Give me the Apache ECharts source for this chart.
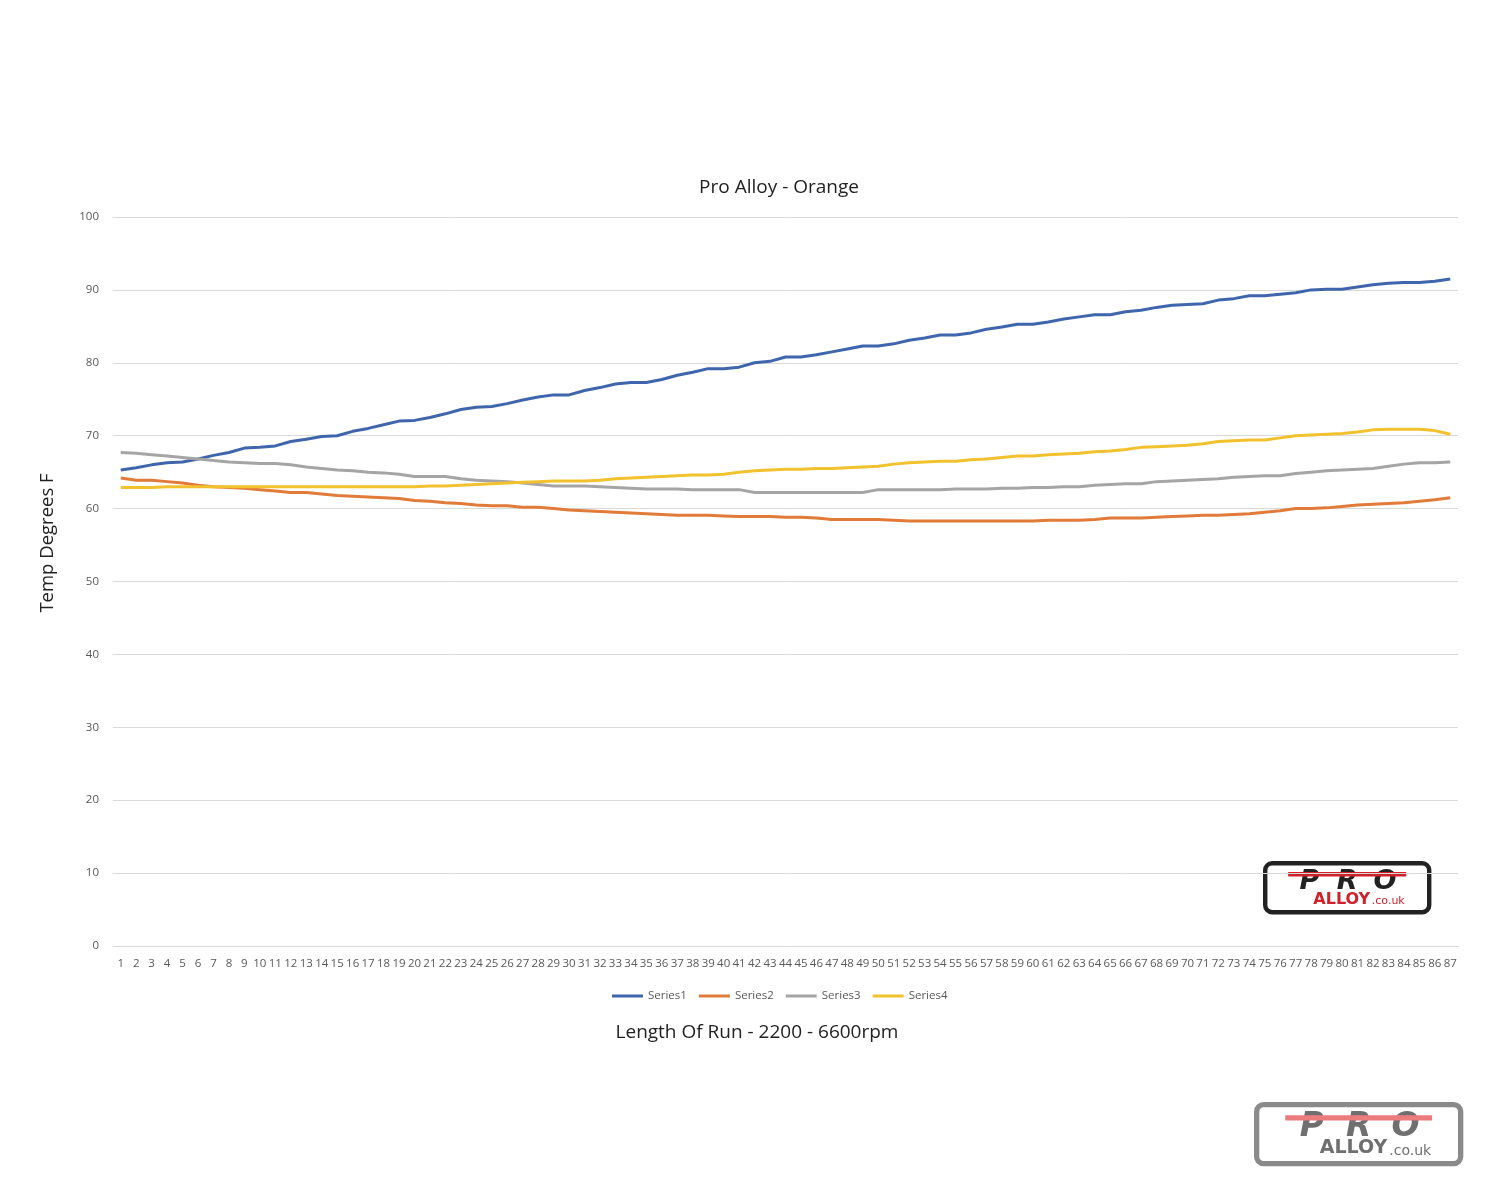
<!DOCTYPE html>
<html><head><meta charset="utf-8">
<script src="https://cdn.jsdelivr.net/npm/echarts@6/dist/echarts.min.js"></script>
<style>html,body{margin:0;padding:0;background:#fff}#c{width:1500px;height:1200px}</style>
</head><body><div id="c"></div>
<script>
const categories = Array.from({length: 87}, (_, i) => String(i + 1));
const series1 = [65.3,65.6,66.0,66.3,66.4,66.8,67.3,67.7,68.3,68.4,68.6,69.2,69.5,69.9,70.0,70.6,71.0,71.5,72.0,72.1,72.5,73.0,73.6,73.9,74.0,74.4,74.9,75.3,75.6,75.6,76.2,76.6,77.1,77.3,77.3,77.7,78.3,78.7,79.2,79.2,79.4,80.0,80.2,80.8,80.8,81.1,81.5,81.9,82.3,82.3,82.6,83.1,83.4,83.8,83.8,84.1,84.6,84.9,85.3,85.3,85.6,86.0,86.3,86.6,86.6,87.0,87.2,87.6,87.9,88.0,88.1,88.6,88.8,89.2,89.2,89.4,89.6,90.0,90.1,90.1,90.4,90.7,90.9,91.0,91.0,91.2,91.5];
const series2 = [64.2,63.9,63.9,63.7,63.5,63.2,63.0,62.9,62.8,62.6,62.4,62.2,62.2,62.0,61.8,61.7,61.6,61.5,61.4,61.1,61.0,60.8,60.7,60.5,60.4,60.4,60.2,60.2,60.0,59.8,59.7,59.6,59.5,59.4,59.3,59.2,59.1,59.1,59.1,59.0,58.9,58.9,58.9,58.8,58.8,58.7,58.5,58.5,58.5,58.5,58.4,58.3,58.3,58.3,58.3,58.3,58.3,58.3,58.3,58.3,58.4,58.4,58.4,58.5,58.7,58.7,58.7,58.8,58.9,59.0,59.1,59.1,59.2,59.3,59.5,59.7,60.0,60.0,60.1,60.3,60.5,60.6,60.7,60.8,61.0,61.2,61.5];
const series3 = [67.7,67.6,67.4,67.2,67.0,66.8,66.6,66.4,66.3,66.2,66.2,66.0,65.7,65.5,65.3,65.2,65.0,64.9,64.7,64.4,64.4,64.4,64.1,63.9,63.8,63.7,63.5,63.3,63.1,63.1,63.1,63.0,62.9,62.8,62.7,62.7,62.7,62.6,62.6,62.6,62.6,62.2,62.2,62.2,62.2,62.2,62.2,62.2,62.2,62.6,62.6,62.6,62.6,62.6,62.7,62.7,62.7,62.8,62.8,62.9,62.9,63.0,63.0,63.2,63.3,63.4,63.4,63.7,63.8,63.9,64.0,64.1,64.3,64.4,64.5,64.5,64.8,65.0,65.2,65.3,65.4,65.5,65.8,66.1,66.3,66.3,66.4];
const series4 = [62.9,62.9,62.9,63.0,63.0,63.0,63.0,63.0,63.0,63.0,63.0,63.0,63.0,63.0,63.0,63.0,63.0,63.0,63.0,63.0,63.1,63.1,63.2,63.3,63.4,63.5,63.6,63.7,63.8,63.8,63.8,63.9,64.1,64.2,64.3,64.4,64.5,64.6,64.6,64.7,65.0,65.2,65.3,65.4,65.4,65.5,65.5,65.6,65.7,65.8,66.1,66.3,66.4,66.5,66.5,66.7,66.8,67.0,67.2,67.2,67.4,67.5,67.6,67.8,67.9,68.1,68.4,68.5,68.6,68.7,68.9,69.2,69.3,69.4,69.4,69.7,70.0,70.1,70.2,70.3,70.5,70.8,70.9,70.9,70.9,70.7,70.2];
const seriesNames = ['Series1','Series2','Series3','Series4'];
const seriesColors = ['#3f66ad','#e07b39','#a5a5a5','#f2c12e'];
const titleText = 'Pro Alloy - Orange';
const xName = 'Length Of Run - 2200 - 6600rpm';
const yName = 'Temp Degrees F';

function logo(x, y, w, h, border, proColor, stripe, alloyColor) {
  const proSize = Math.round(h * 0.56);
  const alloySize = Math.round(h * 0.32);
  const kids = [
    {type: 'rect', shape: {x: 0, y: 0, width: w, height: h, r: 7}, style: {fill: '#fff', stroke: border, lineWidth: Math.max(3, h * 0.09)}}
  ];
  ['P', 'R', 'O'].forEach((ch, k) => {
    kids.push({type: 'text', x: w * (0.27 + 0.23 * k), y: h * 0.1,
      style: {text: ch, fill: proColor, font: 'italic 900 ' + proSize + 'px "DejaVu Sans", sans-serif', textAlign: 'center'}});
  });
  kids.push({type: 'rect', shape: {x: w * 0.14, y: h * 0.18, width: w * 0.72, height: h * 0.09}, style: {fill: stripe}});
  kids.push({type: 'text', x: w * 0.64, y: h * 0.58, style: {text: 'ALLOY', fill: alloyColor, font: 'bold ' + alloySize + 'px "DejaVu Sans", sans-serif', textAlign: 'right'}});
  kids.push({type: 'text', x: w * 0.65, y: h * 0.67, style: {text: '.co.uk', fill: alloyColor, font: Math.round(h * 0.23) + 'px "DejaVu Sans", sans-serif', textAlign: 'left'}});
  return {type: 'group', left: x, top: y, children: kids};
}

const chart = echarts.init(document.getElementById('c'), null, {renderer: 'canvas'});
const data = [series1, series2, series3, series4];
chart.setOption({
  animation: false,
  backgroundColor: '#fff',
  legend: {
    data: seriesNames, left: 607, top: 985, icon: 'rect', itemWidth: 31, itemHeight: 3, itemGap: 12,
    textStyle: {fontFamily: 'Liberation Sans Narrow, Open Sans', fontSize: 11.5, color: '#595959'}
  },
  grid: {left: 113, right: 42, top: 217, bottom: 254, containLabel: false},
  xAxis: {
    type: 'category', data: categories, boundaryGap: true,
    axisLine: {lineStyle: {color: '#d9d9d9'}}, axisTick: {show: false},
    axisLabel: {interval: 0, margin: 12, fontFamily: 'Liberation Sans Narrow, Open Sans', fontSize: 11.5, color: '#595959'}
  },
  yAxis: {
    type: 'value', min: 0, max: 100, interval: 10,
    axisLine: {show: false}, axisTick: {show: false},
    splitLine: {lineStyle: {color: '#d9d9d9', width: 1}},
    axisLabel: {margin: 14, fontFamily: 'Open Sans', fontSize: 11.5, color: '#595959'}
  },
  graphic: [
    {type: 'text', x: 779, y: 188, style: {text: titleText, font: '19px "Open Sans"', fill: '#222', textAlign: 'center', textVerticalAlign: 'middle'}},
    {type: 'text', x: 757, y: 1033, style: {text: xName, font: '19px "Open Sans"', fill: '#222', textAlign: 'center', textVerticalAlign: 'middle'}},
    {type: 'text', x: 48, y: 543, rotation: Math.PI / 2, style: {text: yName, font: '18.5px "Open Sans"', fill: '#222', textAlign: 'center', textVerticalAlign: 'middle'}},
    logo(1263, 861, 164, 49, '#222', '#222', '#d0202a', '#d0202a'),
    logo(1254, 1102, 204, 59, '#8a8a8a', '#6f6f6f', '#ec7a7f', '#6f6f6f')
  ],
  series: seriesNames.map((n, i) => ({
    name: n, type: 'line', data: data[i], symbol: 'none', smooth: false,
    lineStyle: {width: 3, color: seriesColors[i]}, itemStyle: {color: seriesColors[i]}
  }))
});
</script></body></html>
